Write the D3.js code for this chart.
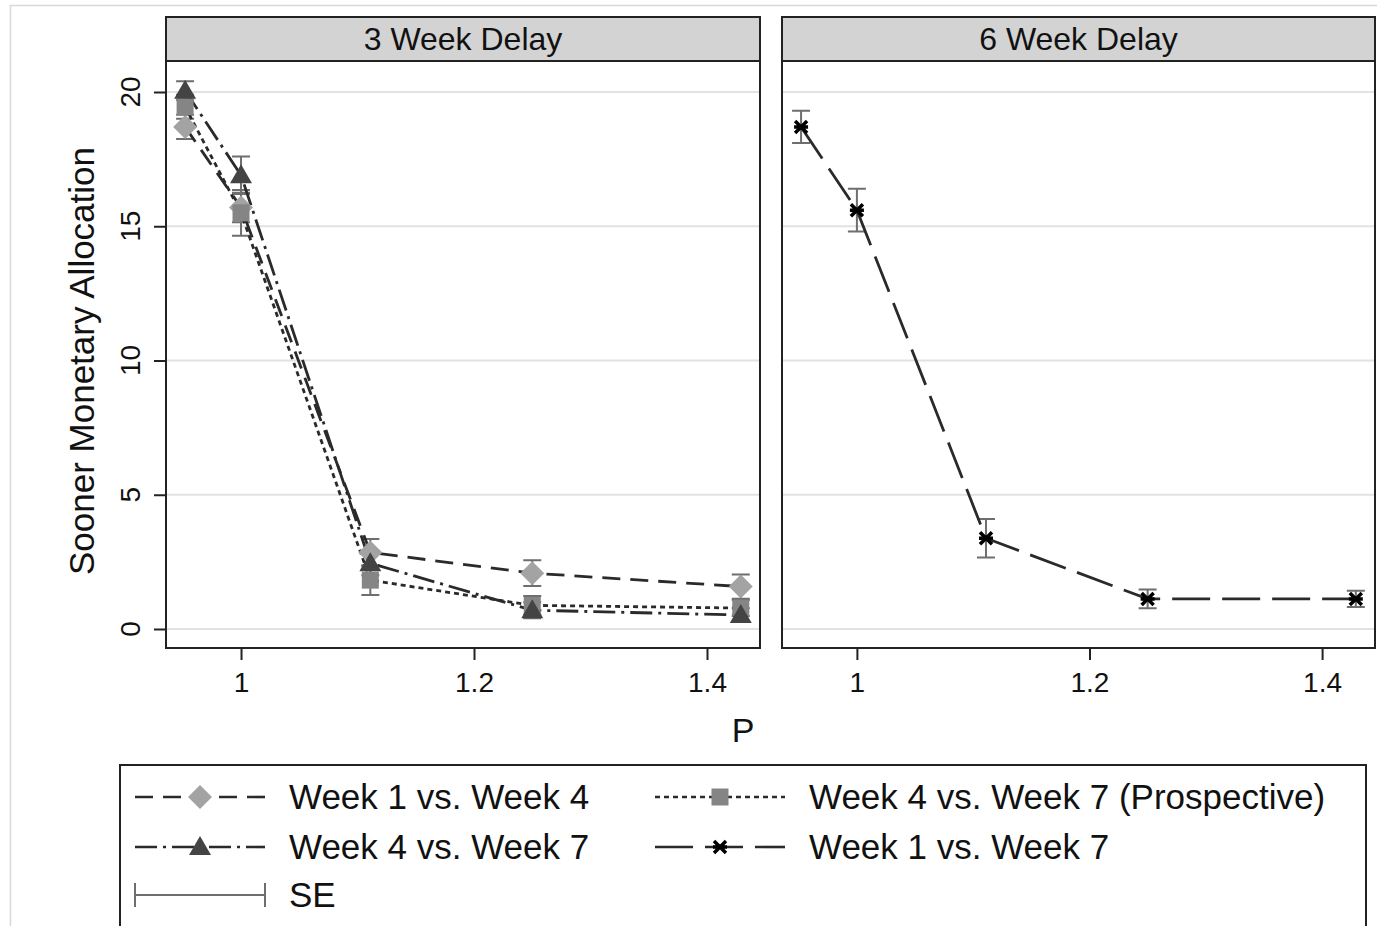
<!DOCTYPE html>
<html>
<head>
<meta charset="utf-8">
<script src="https://cdn.jsdelivr.net/npm/d3@7"></script>
<style>
  body { margin: 0; background: #fff; }
  text { font-family: "Liberation Sans", Arial, Helvetica, sans-serif; fill: #111; }
</style>
</head>
<body>
<div id="app"></div>
<script>
// Data
const pValues = [0.952, 1, 1.111, 1.25, 1.429];
const panels = ['3 Week Delay', '6 Week Delay'];

const wk1vs4 = [18.7, 15.7, 2.85, 2.08, 1.58];
const wk1vs4SE = [0.45, 0.55, 0.5, 0.48, 0.45];
const wk4vs7Pro = [19.45, 15.5, 1.82, 0.88, 0.78];
const wk4vs7ProSE = [0.45, 0.85, 0.55, 0.35, 0.3];
const wk4vs7 = [20.05, 16.9, 2.45, 0.7, 0.52];
const wk4vs7SE = [0.35, 0.7, 0.45, 0.3, 0.25];
const wk1vs7 = [18.7, 15.6, 3.38, 1.12, 1.12];
const wk1vs7SE = [0.6, 0.8, 0.72, 0.35, 0.3];

const yTicks = [0, 5, 10, 15, 20];
const xTicks = [1, 1.2, 1.4];

// Constants
const width = 1377;
const height = 926;
const headerTop = 17;
const plotTop = 61;
const plotBottom = 648;
const panelX = [[166, 760], [782, 1375]];

const series = [
  { name: 'Week 1 vs. Week 4', panel: 0, y: wk1vs4, se: wk1vs4SE, marker: 'diamond', fill: '#a3a3a3', dash: '18,10' },
  { name: 'Week 4 vs. Week 7 (Prospective)', panel: 0, y: wk4vs7Pro, se: wk4vs7ProSE, marker: 'square', fill: '#858585', dash: '5,4' },
  { name: 'Week 4 vs. Week 7', panel: 0, y: wk4vs7, se: wk4vs7SE, marker: 'triangle', fill: '#444', dash: '22,6,3,6' },
  { name: 'Week 1 vs. Week 7', panel: 1, y: wk1vs7, se: wk1vs7SE, marker: 'star', fill: '#000', dash: '38,12' },
];

const yScale = d3.scaleLinear().domain([0, 20]).range([629, 92]);
const xScales = panelX.map((r) => d3.scaleLinear().domain([0.9356, 1.4455]).range(r));

const svg = d3.select('#app')
  .append('svg')
  .attr('width', width)
  .attr('height', height);

svg.append('rect')
  .attr('width', width)
  .attr('height', height)
  .attr('fill', '#fff');

// light outer frame
svg.append('rect')
  .attr('x', 10.5)
  .attr('y', 5.5)
  .attr('width', width)
  .attr('height', height)
  .attr('fill', 'none')
  .attr('stroke', '#d8d8d8')
  .attr('stroke-width', 1.5);

// Marker drawing
function drawMarker(g, type, x, y, fill) {
  if (type === 'diamond') {
    const s = 12;
    g.append('path')
      .attr('d', `M${x},${y - s}L${x + s},${y}L${x},${y + s}L${x - s},${y}Z`)
      .attr('fill', fill);
  } else if (type === 'square') {
    const s = 8.5;
    g.append('rect')
      .attr('x', x - s).attr('y', y - s)
      .attr('width', 2 * s).attr('height', 2 * s)
      .attr('fill', fill);
  } else if (type === 'triangle') {
    g.append('path')
      .attr('d', `M${x},${y - 11}L${x + 11},${y + 8}L${x - 11},${y + 8}Z`)
      .attr('fill', fill);
  } else {
    const s = 6;
    g.append('path')
      .attr('d', `M${x - s},${y - s}L${x + s},${y + s}M${x - s},${y + s}L${x + s},${y - s}M${x - s - 1},${y}L${x + s + 1},${y}`)
      .attr('stroke', fill)
      .attr('stroke-width', 3.5)
      .attr('fill', 'none');
  }
}

// Panels
panels.forEach((title, pi) => {
  const [x0, x1] = panelX[pi];
  const xScale = xScales[pi];
  const g = svg.append('g').attr('class', `panel${pi}`);

  // header
  g.append('rect')
    .attr('x', x0).attr('y', headerTop)
    .attr('width', x1 - x0).attr('height', plotTop - headerTop)
    .attr('fill', '#d3d3d3')
    .attr('stroke', '#222')
    .attr('stroke-width', 2);
  g.append('text')
    .attr('x', (x0 + x1) / 2)
    .attr('y', plotTop - 11)
    .attr('text-anchor', 'middle')
    .attr('font-size', 32)
    .text(title);

  // grid
  g.selectAll('.grid')
    .data(yTicks)
    .join('line')
    .attr('x1', x0).attr('x2', x1)
    .attr('y1', (d) => yScale(d)).attr('y2', (d) => yScale(d))
    .attr('stroke', '#e2e2e2')
    .attr('stroke-width', 2);

  // x axis
  const xAxis = d3.axisBottom(xScale)
    .tickValues(xTicks)
    .tickFormat(d3.format('~g'))
    .tickSize(12)
    .tickPadding(12);
  const ax = g.append('g')
    .attr('transform', `translate(0, ${plotBottom})`)
    .call(xAxis);
  ax.select('.domain').remove();
  ax.selectAll('line').attr('stroke', '#222').attr('stroke-width', 2);
  ax.selectAll('text').attr('font-size', 28).attr('fill', '#111')
    .attr('font-family', '"Liberation Sans", Arial, sans-serif');

  // series in panel
  const inPanel = series.filter((s) => s.panel === pi);

  // error bars
  inPanel.forEach((s) => {
    pValues.forEach((p, i) => {
      const cx = xScale(p);
      const lo = yScale(s.y[i] - s.se[i]);
      const hi = yScale(s.y[i] + s.se[i]);
      g.append('path')
        .attr('d', `M${cx},${lo}L${cx},${hi}M${cx - 9},${lo}L${cx + 9},${lo}M${cx - 9},${hi}L${cx + 9},${hi}`)
        .attr('stroke', '#6e6e6e')
        .attr('stroke-width', 2)
        .attr('fill', 'none');
    });
  });

  // lines
  const line = d3.line()
    .x((d) => xScale(d[0]))
    .y((d) => yScale(d[1]));
  inPanel.forEach((s) => {
    g.append('path')
      .datum(pValues.map((p, i) => [p, s.y[i]]))
      .attr('d', line)
      .attr('fill', 'none')
      .attr('stroke', '#2a2a2a')
      .attr('stroke-width', 2.8)
      .attr('stroke-dasharray', s.dash);
  });

  // markers
  inPanel.forEach((s) => {
    pValues.forEach((p, i) => drawMarker(g, s.marker, xScale(p), yScale(s.y[i]), s.fill));
  });

  // panel box
  g.append('rect')
    .attr('x', x0).attr('y', plotTop)
    .attr('width', x1 - x0).attr('height', plotBottom - plotTop)
    .attr('fill', 'none')
    .attr('stroke', '#222')
    .attr('stroke-width', 2);
});

// y axis (left panel only)
const yAxis = d3.axisLeft(yScale)
  .tickValues(yTicks)
  .tickSize(12)
  .tickFormat('');
const yax = svg.append('g')
  .attr('transform', `translate(${panelX[0][0]}, 0)`)
  .call(yAxis);
yax.select('.domain').remove();
yax.selectAll('line').attr('stroke', '#222').attr('stroke-width', 2);

svg.selectAll('.ytick')
  .data(yTicks)
  .join('text')
  .attr('class', 'ytick')
  .attr('transform', (d) => `translate(140, ${yScale(d)}) rotate(-90)`)
  .attr('text-anchor', 'middle')
  .attr('font-size', 28)
  .text((d) => d);

// axis titles
svg.append('text')
  .attr('transform', `translate(94, 361) rotate(-90)`)
  .attr('text-anchor', 'middle')
  .attr('font-size', 35)
  .text('Sooner Monetary Allocation');
svg.append('text')
  .attr('x', 743)
  .attr('y', 742)
  .attr('text-anchor', 'middle')
  .attr('font-size', 34)
  .text('P');

// Legend
const legend = svg.append('g').attr('id', 'legend');
legend.append('rect')
  .attr('x', 120).attr('y', 765)
  .attr('width', 1246).attr('height', 200)
  .attr('fill', '#fff')
  .attr('stroke', '#222')
  .attr('stroke-width', 2);

const legendPos = [
  { x: 135, y: 797 },
  { x: 655, y: 797 },
  { x: 135, y: 847 },
  { x: 655, y: 847 },
];
series.forEach((s, i) => {
  const { x, y } = legendPos[i];
  legend.append('line')
    .attr('x1', x).attr('x2', x + 130)
    .attr('y1', y).attr('y2', y)
    .attr('stroke', '#2a2a2a')
    .attr('stroke-width', 2.6)
    .attr('stroke-dasharray', s.dash);
  drawMarker(legend, s.marker, x + 65, y, s.fill);
  legend.append('text')
    .attr('x', x + 154)
    .attr('y', y + 12)
    .attr('font-size', 35)
    .text(s.name);
});

// SE key
legend.append('path')
  .attr('d', 'M135,895L265,895M135,883L135,907M265,883L265,907')
  .attr('stroke', '#6e6e6e')
  .attr('stroke-width', 2)
  .attr('fill', 'none');
legend.append('text')
  .attr('x', 289)
  .attr('y', 907)
  .attr('font-size', 35)
  .text('SE');
</script>
</body>
</html>
